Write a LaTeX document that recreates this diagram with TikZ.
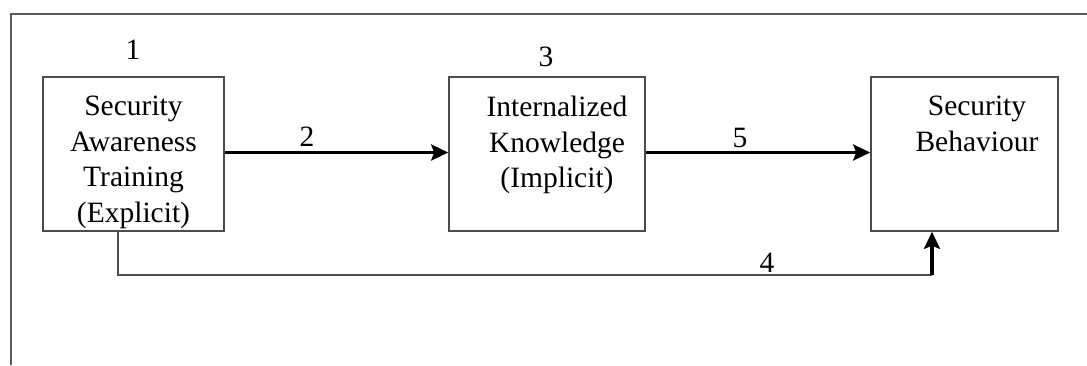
\documentclass[tikz,border=0pt]{standalone}
\usepackage{fontspec}
\setmainfont{Liberation Serif}
\usetikzlibrary{arrows.meta}
\begin{document}
\begin{tikzpicture}[x=1pt,y=-1pt,
  frameline/.style={draw=black!65,line width=1.5pt},
  boxnode/.style={draw=black!70,line width=1.6pt,inner sep=0pt,minimum height=154pt},
  boxtext/.style={anchor=north,inner sep=0pt,align=center,font=\fontsize{29.5}{35.5}\selectfont,text=black},
  numlabel/.style={inner sep=0pt,font=\fontsize{29.5}{35.5}\selectfont,text=black},
  thickarrow/.style={draw=black,line width=3.4pt,-{Stealth[length=17pt,width=16pt,inset=3pt]}},
  thinline/.style={draw=black!70,line width=1.6pt}]
\useasboundingbox (0,0) rectangle (1087,365);
\draw[frameline] (11,365) -- (11,14) -- (1087,14);
% boxes
\node[boxnode,minimum width=181pt] (b1) at (133.5,154) {};
\node[boxnode,minimum width=196pt] (b2) at (547,154) {};
\node[boxnode,minimum width=187pt] (b3) at (964.5,154) {};
% texts
\node[boxtext] (t1) at (133.5,96) {Security\\Awareness\\Training\\(Explicit)};
\node[boxtext] (t2) at (557,96) {Internalized\\Knowledge\\(Implicit)};
\node[boxtext] (t3) at (977,96) {Security\\Behaviour};
% number labels
\node[numlabel] (n1) at (133,50) {1};
\node[numlabel] (n2) at (307,137) {2};
\node[numlabel] (n3) at (546,57) {3};
\node[numlabel] (n4) at (767,263) {4};
\node[numlabel] (n5) at (740,138) {5};
% connectors
\draw[thickarrow] ([yshift=1.5pt]b1.east) -- ([yshift=1.5pt]b2.west);
\draw[thickarrow] ([yshift=1.5pt]b2.east) -- ([yshift=1.5pt]b3.west);
\coordinate (s4) at ([xshift=-15.5pt]b1.south);
\coordinate (c4) at (932,275);
\draw[thinline] (s4) |- (c4);
\draw[thickarrow] (c4) -- (c4 |- b3.south);
\end{tikzpicture}
\end{document}
